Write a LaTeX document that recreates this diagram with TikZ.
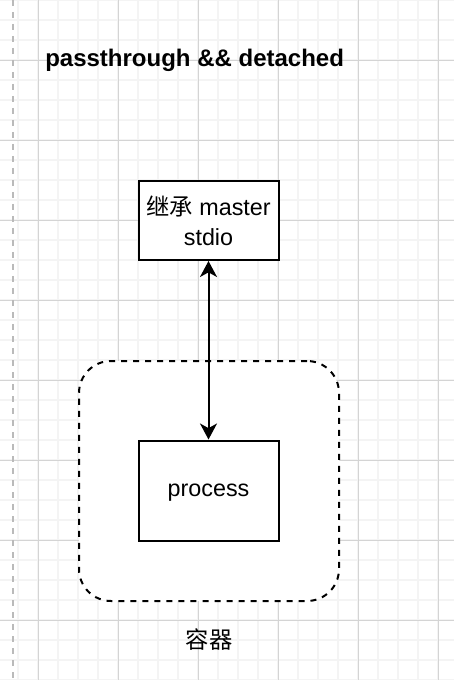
\documentclass[tikz,border=0pt]{standalone}
\usepackage{fontspec}
\setmainfont{Liberation Sans}
\newfontfamily\cjk{Noto Sans CJK SC}
\usepackage{tikz}
\usetikzlibrary{arrows.meta}
\definecolor{gridmajor}{RGB}{212,212,212}
\definecolor{gridminor}{RGB}{244,244,244}
\definecolor{guidegray}{RGB}{186,186,186}

\begin{document}
\begin{tikzpicture}[x=0.75pt, y=-0.75pt,
        box/.style={draw, fill=white, line width=1.5pt, minimum width=105pt, align=center, font=\fontsize{17.5}{22.5}\selectfont},
        container/.style={draw, fill=white, line width=1.5pt, dash pattern=on 4.5pt off 4.5pt, rounded corners=24pt, minimum width=195pt, minimum height=180pt},
        link/.style={line width=1.5pt, {Stealth[length=12pt, width=12.75pt, inset=3.5pt]}-{Stealth[length=12pt, width=12.75pt, inset=3.5pt]}}]
        \useasboundingbox (0,0) rectangle (454,680);

        % 背景网格
        \foreach \x in {18,38,...,438}
            \draw[gridminor, line width=1.5pt] (\x,0) -- (\x,680);
        \foreach \y in {0,20,...,680}
            \draw[gridminor, line width=1.5pt] (0,\y) -- (454,\y);
        \foreach \x in {38,118,...,438}
            \draw[gridmajor, line width=0.75pt] (\x+0.5,0) -- (\x+0.5,680);
        \foreach \y in {60,140,...,620}
            \draw[gridmajor, line width=0.75pt] (0,\y+0.5) -- (454,\y+0.5);

        % 左侧虚线
        \draw[guidegray, line width=1.5pt, dash pattern=on 4.5pt off 4.5pt] (13,0) -- (13,680);

        % 标题
        \node[anchor=base west, inner sep=0pt, font=\bfseries\fontsize{18}{21.6}\selectfont] (title) at (45,67) {passthrough \&\& detached};

        % 容器
        \node[container] (cont) at (209,481) {};
        \node[font=\cjk\fontsize{17.5}{21}\selectfont] (contlabel) at (209,640) {容器};

        % 进程与 master
        \node[box, minimum height=75pt, text height=1.05em, text depth=0.2em] (proc) at (208.5,490.5) {process};
        \node[box, minimum height=59.25pt] (master) at (208.5,220.5) {{\cjk 继承} master\\stdio};

        % 双向箭头
        \draw[link] (master) -- (proc);
    \end{tikzpicture}
\end{document}
